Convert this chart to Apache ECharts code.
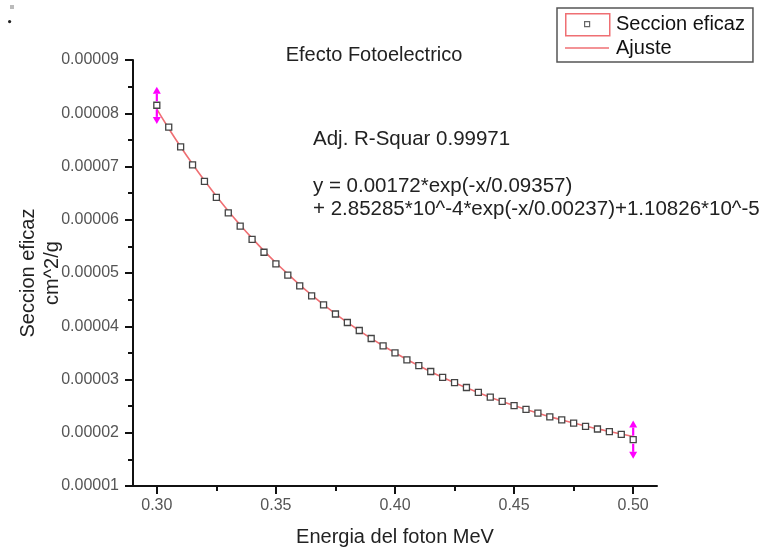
<!DOCTYPE html>
<html>
<head>
<meta charset="utf-8">
<script src="https://cdn.jsdelivr.net/npm/echarts@6/dist/echarts.min.js"></script>
<style>html,body{margin:0;padding:0;background:#fff;}#c{width:763px;height:552px;}</style>
</head>
<body>
<div id="c"></div>
<script>
const energia = [0.300,0.305,0.310,0.315,0.320,0.325,0.330,0.335,0.340,0.345,0.350,0.355,0.360,0.365,0.370,0.375,0.380,0.385,0.390,0.395,0.400,0.405,0.410,0.415,0.420,0.425,0.430,0.435,0.440,0.445,0.450,0.455,0.460,0.465,0.470,0.475,0.480,0.485,0.490,0.495,0.500];
const seccion = [8.15e-5,7.74e-5,7.37e-5,7.03e-5,6.72e-5,6.42e-5,6.13e-5,5.88e-5,5.63e-5,5.39e-5,5.17e-5,4.96e-5,4.76e-5,4.57e-5,4.40e-5,4.23e-5,4.07e-5,3.92e-5,3.77e-5,3.63e-5,3.50e-5,3.37e-5,3.26e-5,3.15e-5,3.04e-5,2.94e-5,2.85e-5,2.76e-5,2.67e-5,2.59e-5,2.51e-5,2.44e-5,2.37e-5,2.30e-5,2.24e-5,2.18e-5,2.12e-5,2.07e-5,2.02e-5,1.97e-5,1.87e-5];
const ajuste = [8.077e-5,7.714e-5,7.370e-5,7.045e-5,6.736e-5,6.443e-5,6.165e-5,5.902e-5,5.653e-5,5.416e-5,5.192e-5,4.980e-5,4.778e-5,4.587e-5,4.406e-5,4.235e-5,4.072e-5,3.918e-5,3.771e-5,3.633e-5,3.502e-5,3.377e-5,3.259e-5,3.147e-5,3.041e-5,2.940e-5,2.845e-5,2.755e-5,2.669e-5,2.588e-5,2.511e-5,2.438e-5,2.369e-5,2.303e-5,2.241e-5,2.182e-5,2.126e-5,2.073e-5,2.023e-5,1.975e-5,1.930e-5];
const errX = [0.300, 0.500];
const errY = [8.15e-5, 1.87e-5];
const errBar = [0.35e-5, 0.36e-5];
const xTicks = [0.30,0.35,0.40,0.45,0.50];
const xMinorTicks = [0.325,0.375,0.425,0.475];

const FONT = 'Liberation Sans, Arial, sans-serif';
const chart = echarts.init(document.getElementById('c'), null, {renderer:'canvas'});

const axisLine = {show:true, lineStyle:{color:'#111', width:2}};
const hiddenIcon = {color:'rgba(0,0,0,0)', borderWidth:0, opacity:0};

chart.setOption({
  backgroundColor:'#fff',
  animation:false,
  title:{text:'Efecto Fotoelectrico', left:369, top:40, textAlign:'center',
    textStyle:{fontFamily:FONT, fontSize:20, fontWeight:'normal', color:'#222'}},
  legend:{
    orient:'vertical', left:557, top:8, padding:[5,8,3,8], itemGap:2,
    itemWidth:44, itemHeight:22,
    borderColor:'#555', borderWidth:1.5, backgroundColor:'#fff',
    textStyle:{fontFamily:FONT, fontSize:20, color:'#111', lineHeight:22, padding:[0,0,0,2]},
    data:[
      {name:'Seccion eficaz', icon:'rect', itemStyle:hiddenIcon},
      {name:'Ajuste', icon:'rect', itemStyle:hiddenIcon, lineStyle:{opacity:0}}
    ]
  },
  grid:{left:133, right:106, top:60, bottom:66, containLabel:false, outerBoundsMode:'none'},
  xAxis:[{
    type:'value', min:0.29, max:0.51,
    name:'Energia del foton MeV', nameLocation:'middle', nameGap:41, nameMoveOverlap:false,
    nameTextStyle:{fontFamily:FONT, fontSize:20, color:'#222'},
    axisLine:axisLine,
    axisTick:{show:true, inside:false, length:8, lineStyle:{color:'#111', width:2}, customValues:xTicks},
    axisLabel:{fontFamily:FONT, fontSize:16, color:'#555', margin:12, customValues:xTicks,
      formatter:v=>v.toFixed(2)},
    splitLine:{show:false}
  },{
    type:'value', min:0.29, max:0.51, position:'bottom', offset:0,
    axisLine:{show:false},
    axisTick:{show:true, length:5, lineStyle:{color:'#111', width:2}, customValues:xMinorTicks},
    axisLabel:{show:false},
    splitLine:{show:false}
  }],
  yAxis:{
    type:'value', min:0.00001, max:0.00009, interval:0.00001,
    name:'Seccion eficaz\ncm^2/g', nameLocation:'middle', nameRotate:90, nameGap:69, nameMoveOverlap:false,
    nameTextStyle:{fontFamily:FONT, fontSize:20, color:'#222', lineHeight:24},
    axisLine:axisLine,
    axisTick:{show:true, length:8, lineStyle:{color:'#111', width:2}},
    minorTick:{show:true, splitNumber:2, length:5, lineStyle:{color:'#111', width:2}},
    axisLabel:{fontFamily:FONT, fontSize:16, color:'#555', margin:14, formatter:v=>v.toFixed(5)},
    splitLine:{show:false}
  },
  series:[
    {
      name:'Ajuste', type:'line', smooth:true, showSymbol:false, symbol:'none',
      data:energia.map((x,i)=>[x, ajuste[i]]),
      lineStyle:{color:'#ef6f73', width:1.6}, itemStyle:{color:'#ef6f73'}, z:2
    },
    {
      name:'Seccion eficaz', type:'scatter', symbol:'rect', symbolSize:6,
      data:energia.map((x,i)=>[x, seccion[i]]),
      itemStyle:{color:'#fff', borderColor:'#444', borderWidth:1.3, opacity:1}, z:3
    },
    {
      name:'err', type:'custom', z:4, silent:true,
      data:errX.map((x,i)=>[x, errY[i], errY[i]-errBar[i], errY[i]+errBar[i]]),
      renderItem:function(params, api){
        const p = api.coord([api.value(0), api.value(1)]);
        const lo = api.coord([api.value(0), api.value(2)]);
        const hi = api.coord([api.value(0), api.value(3)]);
        const c = '#ff00ff';
        const w = 4, h = 7;
        return {type:'group', children:[
          {type:'line', shape:{x1:p[0], y1:p[1]-4, x2:p[0], y2:hi[1]+h}, style:{stroke:c, lineWidth:2.2}},
          {type:'line', shape:{x1:p[0], y1:p[1]+4, x2:p[0], y2:lo[1]-h}, style:{stroke:c, lineWidth:2.2}},
          {type:'polygon', shape:{points:[[p[0],hi[1]],[p[0]-w,hi[1]+h],[p[0]+w,hi[1]+h]]}, style:{fill:c}},
          {type:'polygon', shape:{points:[[p[0],lo[1]],[p[0]-w,lo[1]-h],[p[0]+w,lo[1]-h]]}, style:{fill:c}}
        ]};
      }
    }
  ],
  graphic:[
    {type:'text', left:313, top:129, style:{text:'Adj. R-Squar 0.99971', font:'20.5px '+FONT, fill:'#222'}},
    {type:'text', left:313, top:176, style:{text:'y = 0.00172*exp(-x/0.09357)', font:'20.5px '+FONT, fill:'#222'}},
    {type:'text', left:313, top:199, style:{text:'+ 2.85285*10^-4*exp(-x/0.00237)+1.10826*10^-5', font:'20.5px '+FONT, fill:'#222'}},
    {type:'rect', left:565, top:13, shape:{width:44, height:22}, style:{fill:'#fff', stroke:'#ef6f73', lineWidth:1.5}, z:100},
    {type:'rect', left:584, top:21, shape:{width:5, height:5}, style:{fill:'#fff', stroke:'#666', lineWidth:1.2}, z:101},
    {type:'line', shape:{x1:565, y1:48, x2:609, y2:48}, style:{stroke:'#ef6f73', lineWidth:1.5}, z:100},
    {type:'rect', left:10, top:5, shape:{width:4, height:4}, style:{fill:'#bbb'}},
    {type:'circle', left:8, top:20, shape:{r:1.6}, style:{fill:'#222'}}
  ]
});
</script>
</body>
</html>
